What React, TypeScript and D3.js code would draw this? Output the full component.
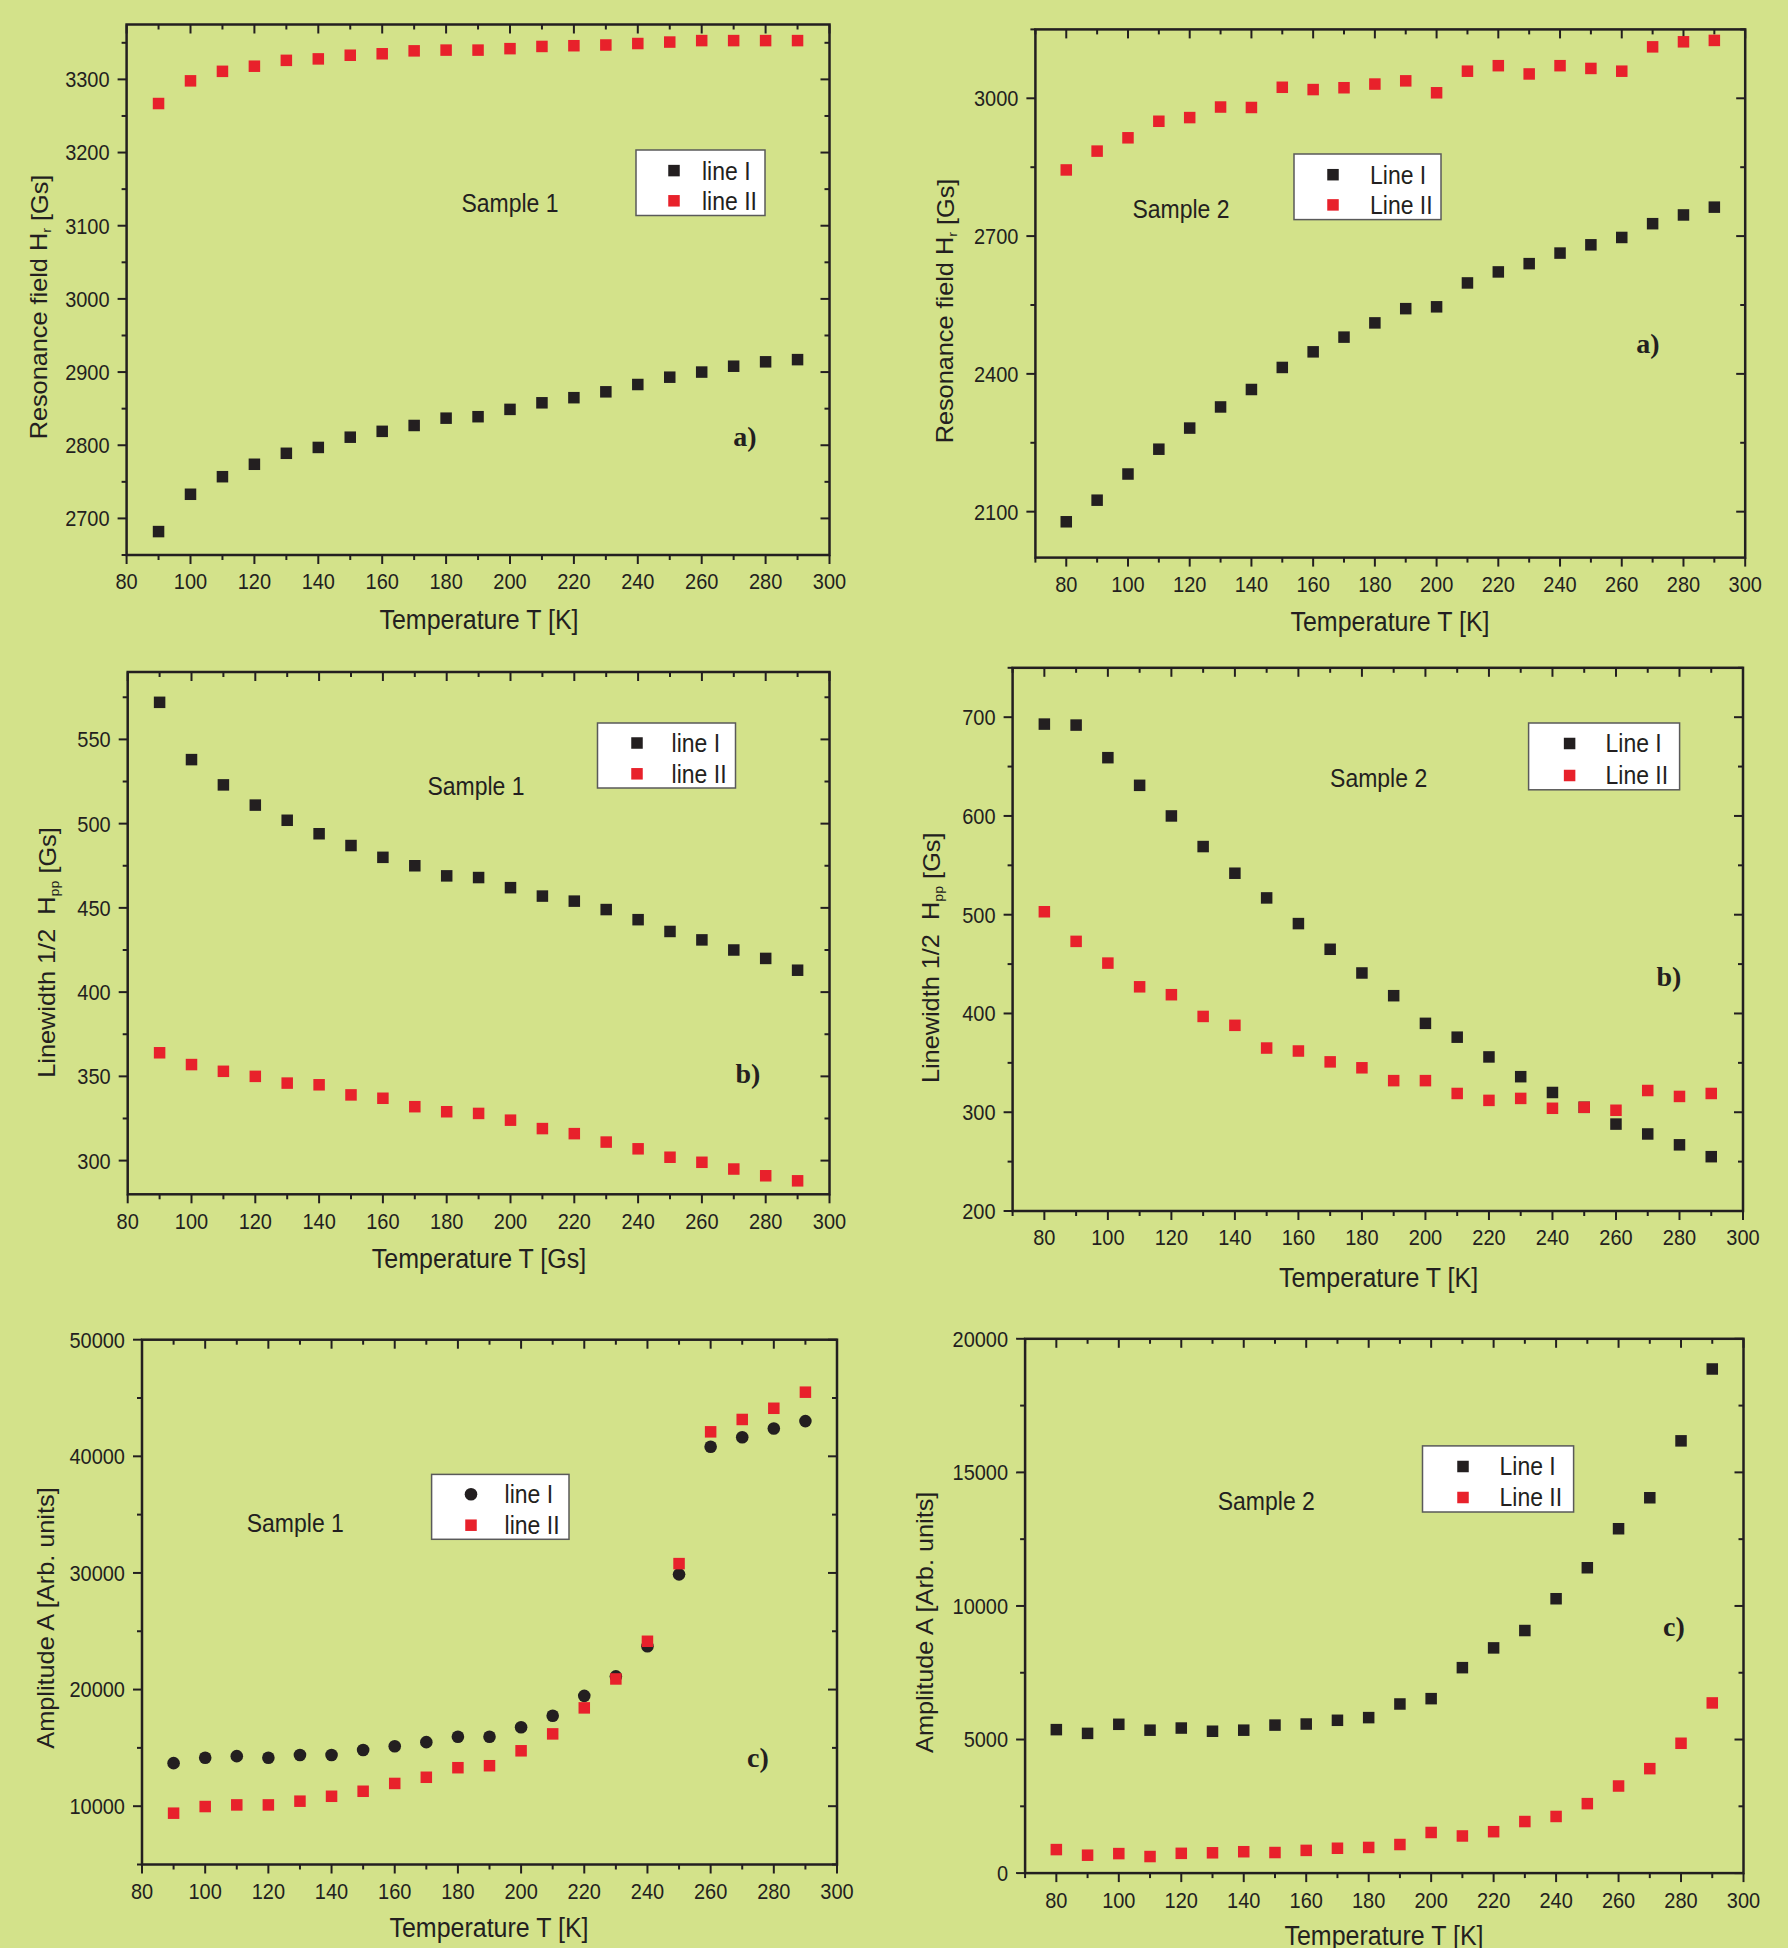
import * as d3 from 'd3';

// temperatures (K)
const TEMP_FROM_90 = [90, 100, 110, 120, 130, 140, 150, 160, 170, 180, 190, 200, 210, 220, 230, 240, 250, 260, 270, 280, 290];
const TEMP_FROM_80 = [80, 90, 100, 110, 120, 130, 140, 150, 160, 170, 180, 190, 200, 210, 220, 230, 240, 250, 260, 270, 280, 290];

// a) resonance field
const s1FieldLineI = [2682, 2733, 2757, 2774, 2789, 2797, 2811, 2819, 2827, 2837, 2839, 2849, 2858, 2865, 2873, 2883, 2893, 2900, 2908, 2914, 2917];
const s1FieldLineII = [3267, 3298, 3311, 3318, 3326, 3328, 3333, 3335, 3339, 3340, 3340, 3342, 3345, 3346, 3347, 3349, 3351, 3353, 3353, 3353, 3353];
const s2FieldLineI = [2078, 2125, 2182, 2236, 2282, 2328, 2366, 2414, 2448, 2480, 2511, 2542, 2546, 2598, 2622, 2640, 2663, 2681, 2697, 2727, 2746, 2763];
const s2FieldLineII = [2844, 2885, 2914, 2950, 2958, 2981, 2980, 3024, 3019, 3023, 3031, 3038, 3012, 3059, 3071, 3053, 3071, 3065, 3059, 3112, 3123, 3126];

// b) linewidth
const s1WidthLineI = [572, 538, 523, 511, 502, 494, 487, 480, 475, 469, 468, 462, 457, 454, 449, 443, 436, 431, 425, 420, 413];
const s1WidthLineII = [364, 357, 353, 350, 346, 345, 339, 337, 332, 329, 328, 324, 319, 316, 311, 307, 302, 299, 295, 291, 288];
const s2WidthLineI = [693, 692, 659, 631, 600, 569, 542, 517, 491, 465, 441, 418, 390, 376, 356, 336, 320, 305, 288, 278, 267, 255];
const s2WidthLineII = [503, 473, 451, 427, 419, 397, 388, 365, 362, 351, 345, 332, 332, 319, 312, 314, 304, 305, 302, 322, 316, 319];

// c) amplitude
const s1AmpLineI = [13690, 14150, 14290, 14150, 14390, 14390, 14820, 15140, 15490, 15950, 15950, 16770, 17760, 19460, 21130, 23710, 29880, 40820, 41640, 42380, 43020];
const s1AmpLineII = [9400, 9970, 10110, 10110, 10430, 10850, 11280, 11950, 12480, 13300, 13470, 14750, 16200, 18430, 20910, 24140, 30800, 42100, 43160, 44120, 45500];
const s2AmpLineI = [5370, 5230, 5570, 5350, 5430, 5310, 5350, 5540, 5580, 5720, 5820, 6330, 6530, 7690, 8430, 9080, 10270, 11430, 12890, 14050, 16180, 18870];
const s2AmpLineII = [880, 670, 730, 620, 740, 760, 800, 770, 850, 930, 960, 1070, 1520, 1390, 1550, 1930, 2120, 2600, 3260, 3910, 4860, 6370];

// tick labels
const xTicks = [80, 100, 120, 140, 160, 180, 200, 220, 240, 260, 280, 300];
const yTicksFieldS1 = [2700, 2800, 2900, 3000, 3100, 3200, 3300];
const yTicksFieldS2 = [2100, 2400, 2700, 3000];
const yTicksWidthS1 = [300, 350, 400, 450, 500, 550];
const yTicksWidthS2 = [200, 300, 400, 500, 600, 700];
const yTicksAmpS1 = [10000, 20000, 30000, 40000, 50000];
const yTicksAmpS2 = [0, 5000, 10000, 15000, 20000];

const BG = '#d3e28a';
const INK = '#231f20';
const RED = '#e8212b';
const FONT = '"Liberation Sans", Arial, sans-serif';
const STRETCH = 1.12; // the source text is a little taller than Arial

const panels = [
  {
    frame: { l: 126.6, r: 829.5, t: 24.5, b: 555 },
    xDomain: [80, 300], yDomain: [2650, 3375], yTicks: yTicksFieldS1,
    temps: TEMP_FROM_90, black: s1FieldLineI, red: s1FieldLineII, circle: false,
    names: ['line I', 'line II'],
    legend: { x: 636, y: 150, w: 129, h: 65.5, mx: 674, rows: [170.6, 200.8], tx: 702 },
    sample: 'Sample 1', samplePos: [510, 203], letter: 'a)', letterPos: [745, 436.7],
    xTitle: 'Temperature T [K]', xTitlePos: [479, 620],
    yTitle: ['Resonance field H', 'r', ' [Gs]'], yTitlePos: [39, 307],
  },
  {
    frame: { l: 1035.4, r: 1745.2, t: 29.4, b: 557.6 },
    xDomain: [70, 300], yDomain: [2000, 3150], yTicks: yTicksFieldS2,
    temps: TEMP_FROM_80, black: s2FieldLineI, red: s2FieldLineII, circle: false,
    names: ['Line I', 'Line II'],
    legend: { x: 1294, y: 154, w: 147, h: 65.6, mx: 1333, rows: [174.7, 204.9], tx: 1370 },
    sample: 'Sample 2', samplePos: [1181, 209], letter: 'a)', letterPos: [1648, 343.7],
    xTitle: 'Temperature T [K]', xTitlePos: [1390, 622],
    yTitle: ['Resonance field H', 'r', ' [Gs]'], yTitlePos: [945, 311],
  },
  {
    frame: { l: 127.7, r: 829.5, t: 672, b: 1194.3 },
    xDomain: [80, 300], yDomain: [280, 590], yTicks: yTicksWidthS1,
    temps: TEMP_FROM_90, black: s1WidthLineI, red: s1WidthLineII, circle: false,
    names: ['line I', 'line II'],
    legend: { x: 597.5, y: 723, w: 138, h: 65, mx: 637, rows: [743, 773.8], tx: 671.6 },
    sample: 'Sample 1', samplePos: [476, 786.5], letter: 'b)', letterPos: [748, 1073.5],
    xTitle: 'Temperature T [Gs]', xTitlePos: [479, 1258.7],
    yTitle: ['Linewidth 1/2  H', 'pp', ' [Gs]'], yTitlePos: [47, 952.5],
  },
  {
    frame: { l: 1012.6, r: 1743, t: 667.8, b: 1211 },
    xDomain: [70, 300], yDomain: [200, 750], yTicks: yTicksWidthS2,
    temps: TEMP_FROM_80, black: s2WidthLineI, red: s2WidthLineII, circle: false,
    names: ['Line I', 'Line II'],
    legend: { x: 1528.6, y: 723, w: 151, h: 66.8, mx: 1569.6, rows: [743.5, 775.5], tx: 1605.5 },
    sample: 'Sample 2', samplePos: [1378.6, 778], letter: 'b)', letterPos: [1669, 976.7],
    xTitle: 'Temperature T [K]', xTitlePos: [1378.6, 1277.6],
    yTitle: ['Linewidth 1/2  H', 'pp', ' [Gs]'], yTitlePos: [931, 957.8],
  },
  {
    frame: { l: 142, r: 837, t: 1339.7, b: 1864.5 },
    xDomain: [80, 300], yDomain: [5000, 50000], yTicks: yTicksAmpS1,
    temps: TEMP_FROM_90, black: s1AmpLineI, red: s1AmpLineII, circle: true,
    names: ['line I', 'line II'],
    legend: { x: 431.6, y: 1474.4, w: 137.4, h: 64.9, mx: 471, rows: [1494.2, 1525.2], tx: 504.6 },
    sample: 'Sample 1', samplePos: [295.3, 1523], letter: 'c)', letterPos: [758, 1757.9],
    xTitle: 'Temperature T [K]', xTitlePos: [489, 1928],
    yTitle: ['Amplitude A [Arb. units]', '', ''], yTitlePos: [45.6, 1618],
  },
  {
    frame: { l: 1025.1, r: 1743.5, t: 1338.8, b: 1873.1 },
    xDomain: [70, 300], yDomain: [0, 20000], yTicks: yTicksAmpS2,
    temps: TEMP_FROM_80, black: s2AmpLineI, red: s2AmpLineII, circle: false,
    names: ['Line I', 'Line II'],
    legend: { x: 1422.5, y: 1445.9, w: 151.1, h: 66.1, mx: 1463, rows: [1466.5, 1497.5], tx: 1499.5 },
    sample: 'Sample 2', samplePos: [1266.3, 1501.2], letter: 'c)', letterPos: [1674, 1626.4],
    xTitle: 'Temperature T [K]', xTitlePos: [1384, 1936],
    yTitle: ['Amplitude A [Arb. units]', '', ''], yTitlePos: [925.4, 1622.3],
  },
];

const SQ = 11.5;

function Marker({ x, y, color, circle }) {
  if (circle) return <circle cx={x} cy={y} r={6.3} fill={color} />;
  return <rect x={x - SQ / 2} y={y - SQ / 2} width={SQ} height={SQ} fill={color} />;
}

// text drawn slightly taller than wide, like the scanned figure
function Label({ x, y, size, anchor = 'start', children, ...rest }) {
  return (
    <text transform={`translate(${x},${y}) scale(1,${STRETCH})`} textAnchor={anchor}
      dominantBaseline="central" fontSize={size} fill={INK} {...rest}>{children}</text>
  );
}

function Panel({ p }) {
  const { l, r, t, b } = p.frame;
  const x = d3.scaleLinear().domain(p.xDomain).range([l, r]);
  const y = d3.scaleLinear().domain(p.yDomain).range([b, t]);

  // minor ticks halfway between majors
  const yStep = p.yTicks[1] - p.yTicks[0];
  const yMinor = d3.range(p.yTicks[0] - yStep / 2, p.yDomain[1] + 1, yStep / 2)
    .filter(v => v >= p.yDomain[0] && v <= p.yDomain[1] && !p.yTicks.includes(v));
  const xMinor = d3.range(70, 301, 10).filter(v => v >= p.xDomain[0] && !xTicks.includes(v));

  const MAJ = 9, MIN = 5;
  return (
    <g>
      {/* x ticks: bottom outward, top inward */}
      {xTicks.map(v => (
        <g key={'xt' + v}>
          <line x1={x(v)} x2={x(v)} y1={b} y2={b + MAJ} stroke={INK} strokeWidth={2} />
          <line x1={x(v)} x2={x(v)} y1={t} y2={t + MAJ} stroke={INK} strokeWidth={2} />
          <Label x={x(v)} y={b + 26.5} size={20} anchor="middle">{v}</Label>
        </g>
      ))}
      {xMinor.map(v => (
        <g key={'xm' + v}>
          <line x1={x(v)} x2={x(v)} y1={b} y2={b + MIN} stroke={INK} strokeWidth={2} />
          <line x1={x(v)} x2={x(v)} y1={t} y2={t + MIN} stroke={INK} strokeWidth={2} />
        </g>
      ))}
      {/* y ticks: left outward, right inward */}
      {p.yTicks.map(v => (
        <g key={'yt' + v}>
          <line x1={l} x2={l - MAJ} y1={y(v)} y2={y(v)} stroke={INK} strokeWidth={2} />
          <line x1={r} x2={r - MAJ} y1={y(v)} y2={y(v)} stroke={INK} strokeWidth={2} />
          <Label x={l - 17} y={y(v)} size={20} anchor="end">{v}</Label>
        </g>
      ))}
      {yMinor.map(v => (
        <g key={'ym' + v}>
          <line x1={l} x2={l - MIN} y1={y(v)} y2={y(v)} stroke={INK} strokeWidth={2} />
          <line x1={r} x2={r - MIN} y1={y(v)} y2={y(v)} stroke={INK} strokeWidth={2} />
        </g>
      ))}
      <rect x={l} y={t} width={r - l} height={b - t} fill="none" stroke={INK} strokeWidth={2.5} />

      {/* data */}
      {p.temps.map((tk, i) => (
        <Marker key={'b' + tk} x={x(tk)} y={y(p.black[i])} color={INK} circle={p.circle} />
      ))}
      {p.temps.map((tk, i) => (
        <Marker key={'r' + tk} x={x(tk)} y={y(p.red[i])} color={RED} circle={false} />
      ))}

      {/* legend */}
      <rect x={p.legend.x} y={p.legend.y} width={p.legend.w} height={p.legend.h}
        fill="#ffffff" stroke="#5a5a5a" strokeWidth={1.5} />
      <Marker x={p.legend.mx} y={p.legend.rows[0]} color={INK} circle={p.circle} />
      <Marker x={p.legend.mx} y={p.legend.rows[1]} color={RED} circle={false} />
      {p.names.map((n, i) => (
        <Label key={n} x={p.legend.tx} y={p.legend.rows[i]} size={23}>{n}</Label>
      ))}

      <Label x={p.samplePos[0]} y={p.samplePos[1]} size={23} anchor="middle">{p.sample}</Label>
      <text x={p.letterPos[0]} y={p.letterPos[1]} textAnchor="middle" dominantBaseline="central"
        fontSize={28} fontWeight="bold" fontFamily='"Liberation Serif", "Times New Roman", serif'
        fill={INK}>{p.letter}</text>

      <Label x={p.xTitlePos[0]} y={p.xTitlePos[1]} size={25} anchor="middle">{p.xTitle}</Label>
      <text transform={`translate(${p.yTitlePos[0]},${p.yTitlePos[1]}) rotate(-90) scale(1.1,1)`}
        textAnchor="middle" dominantBaseline="central" fontSize={23} fill={INK}
        style={{ whiteSpace: 'pre' }}>
        {p.yTitle[0]}
        {p.yTitle[1] && <tspan fontSize={13} dy={7}>{p.yTitle[1]}</tspan>}
        {p.yTitle[1] && <tspan dy={-7}>{p.yTitle[2]}</tspan>}
      </text>
    </g>
  );
}

export default function App() {
  return (
    <svg width={1788} height={1948} style={{ position: 'absolute', left: 0, top: 0 }}
      fontFamily={FONT}>
      <rect width={1788} height={1948} fill={BG} />
      {panels.map((p, i) => <Panel key={i} p={p} />)}
    </svg>
  );
}
